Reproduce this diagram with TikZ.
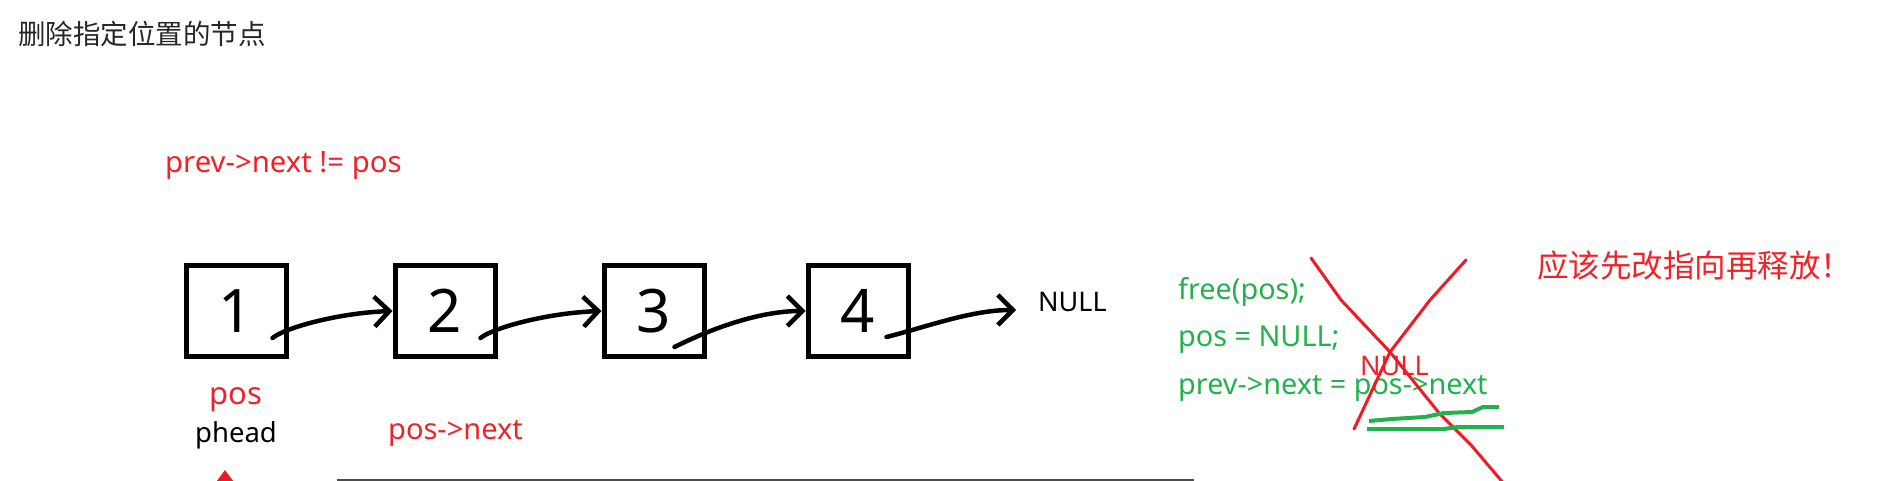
\documentclass[tikz,border=0pt]{standalone}
\usepackage{fontspec}
\setmainfont{Noto Sans}
\newfontfamily\cjk{Noto Sans CJK SC}
\usepackage{tikz}
\usetikzlibrary{arrows.meta,calc,positioning}
\definecolor{penred}{RGB}{237,28,36}
\definecolor{pengreen}{RGB}{34,177,76}
\definecolor{txtred}{RGB}{240,34,40}

\begin{document}
\begin{tikzpicture}[x=1pt, y=-1pt, inner sep=0pt, auto]
        \tikzstyle{block} = [rectangle, draw, line width=5pt,
        minimum width=100pt, minimum height=91pt, font=\fontsize{60}{60}\selectfont]
        \tikzset{line/.style={draw, line width=4.5pt, line cap=round, -{Straight Barb[length=15pt, width=30pt]}}}
        \tikzset{note/.style={anchor=west, font=\fontsize{28.8}{30}\selectfont}}
        \useasboundingbox (0,0) rectangle (1877,481);

        \node [note, text=black!85, font=\cjk\fontsize{27.5}{30}\selectfont] (title) at (18,34) {删除指定位置的节点};
        \node [note, text=txtred, font=\fontsize{29.3}{30}\selectfont] (cond) at (165,166) {prev->next != pos};

        \node [block] (b1) at (236,311) {1};
        \node [block, right=104pt of b1] (b2) {2};
        \node [block, right=104pt of b2] (b3) {3};
        \node [block, right=99pt of b3] (b4) {4};
        \node [note, font=\fontsize{27}{30}\selectfont] (null) at (1038,302) {NULL};

        \path [line] ($(b1.south east)+(-16,-21)$) .. controls +(12,-10) and +(-55,2) .. (b2.west);
        \path [line] ($(b2.south east)+(-17,-21)$) .. controls +(12,-10) and +(-55,2) .. (b3.west);
        \path [line] ($(b3.south east)+(-32,-12)$) .. controls +(30,-15) and +(-50,0) .. (b4.west);
        \path [line] ($(b4.south east)+(-24,-22)$) .. controls +(40,-10) and +(-45,0) .. ($(null.west)+(-22,8)$);

        \node [text=txtred, font=\fontsize{31}{34}\selectfont, below=28pt of b1] (pos) {pos};
        \node [font=\fontsize{27.5}{30}\selectfont, below=10pt of pos] (phead) {phead};
        \node [note, text=txtred, font=\fontsize{29}{30}\selectfont] (posnext) at (388,433) {pos->next};
        \coordinate (ptrtail) at (225,530);
        \draw [penred, line width=3pt, -{Triangle[length=14pt, width=20pt]}] (ptrtail) -- (225,470);
        \draw [black!70, line width=1.5pt] (337,480) -- (1194,480);

        \node [note, text=pengreen] (free) at (1178,292) {free(pos);};
        \node [note, text=pengreen] (setnull) at (1178,340) {pos = NULL;};
        \node [note, text=pengreen] (relink) at (1178,388) {prev->next = pos->next};
        \node [note, text=txtred, font=\fontsize{27}{30}\selectfont] (rednull) at (1360,366) {NULL};
        \node [note, text=txtred, font=\cjk\fontsize{31.5}{32}\selectfont] (warn) at (1537,266) {应该先改指向再释放！};

        % cross over the wrong order
        \draw [penred, line width=3pt, line cap=round] (1311,258) -- (1341,300) -- (1390,352) -- (1439,413) -- (1471,445) -- (1505,485);
        \draw [penred, line width=3pt, line cap=round] (1466,260) -- (1430,300) -- (1390,352) -- (1354,429);
        % underlines
        \draw [pengreen, line width=4pt] (1369,421) -- (1392,419) -- (1425,417) -- (1444,413) -- (1472,412) -- (1483,407) -- (1499,407);
        \draw [pengreen, line width=4pt] (1367,429) -- (1444,429) -- (1458,427) -- (1504,427);

    \end{tikzpicture}
\end{document}
